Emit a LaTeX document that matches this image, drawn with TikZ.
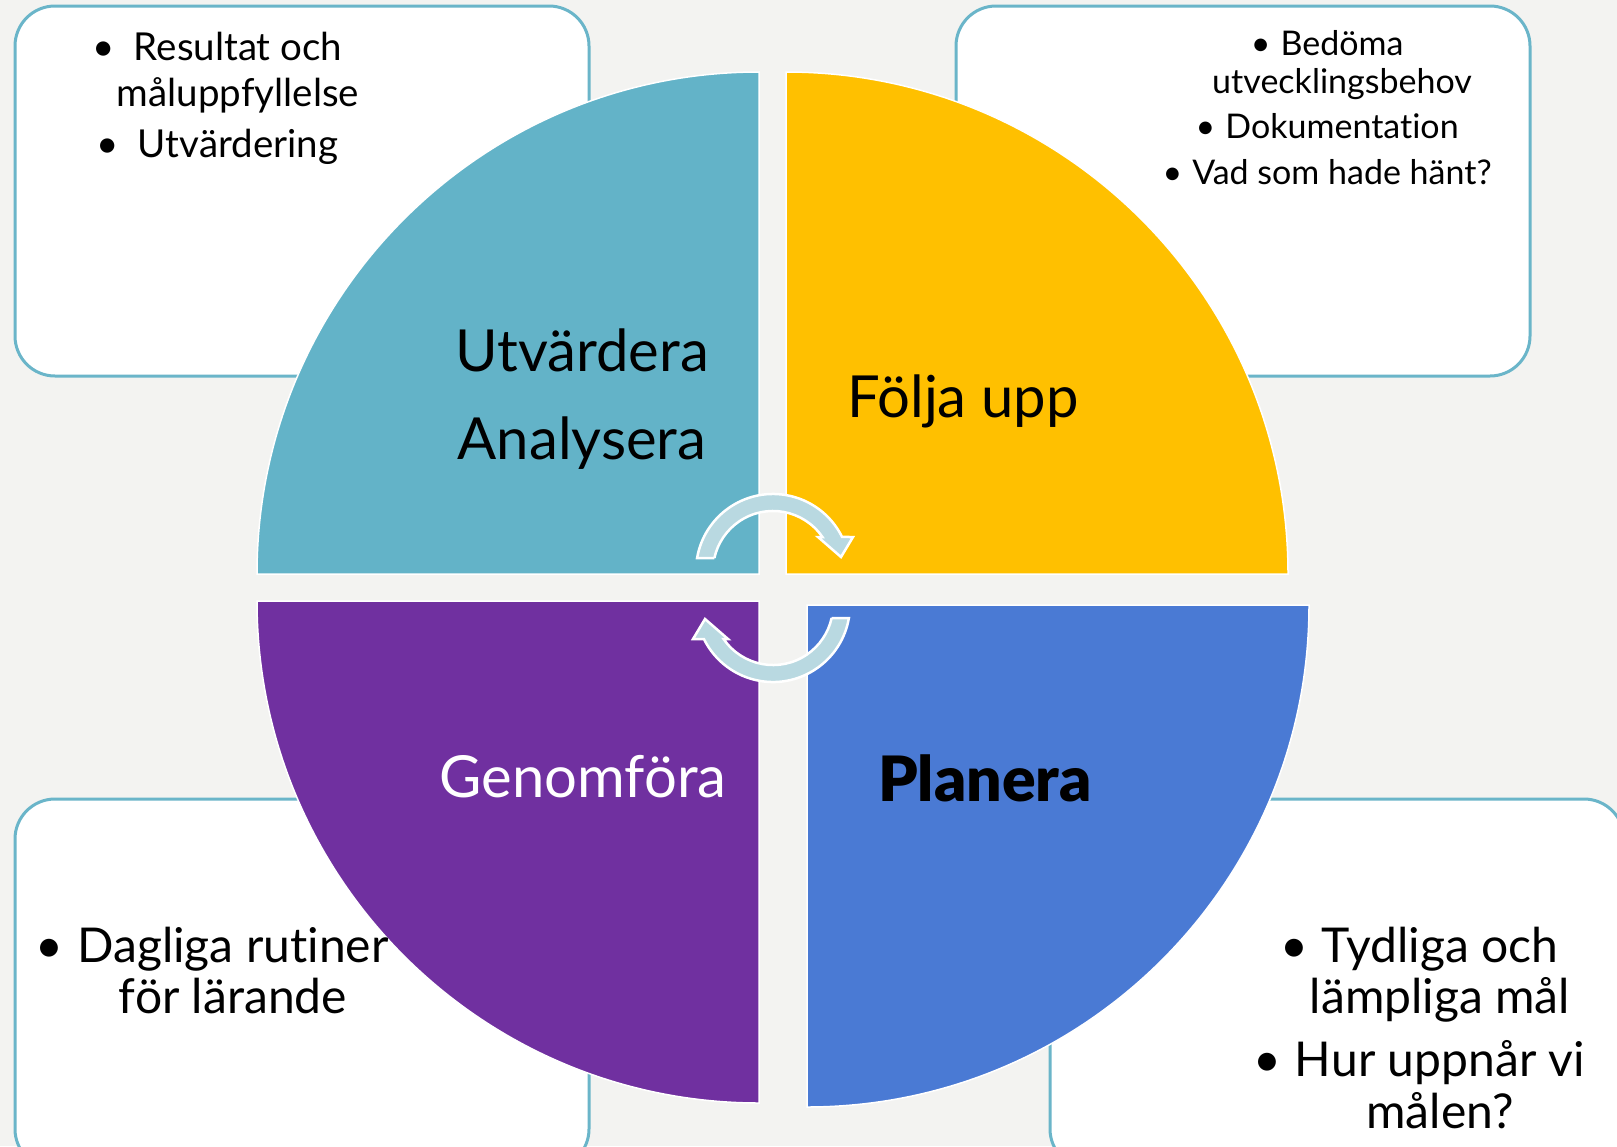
\documentclass[tikz,border=0pt]{standalone}
\usepackage{fontspec}
\setmainfont{Lato}[Ligatures=NoCommon]
\newfontfamily\heavyfont{Lato Black}
\definecolor{bgc}{HTML}{F3F3F1}
\definecolor{boxc}{HTML}{6AB5C9}
\definecolor{tealc}{HTML}{63B3C8}
\definecolor{yellowc}{HTML}{FFC000}
\definecolor{purplec}{HTML}{7030A0}
\definecolor{bluec}{HTML}{4A7AD4}
\definecolor{arrowc}{HTML}{B9D9E1}
\begin{document}
\begin{tikzpicture}[x=1pt,y=1pt,
  box/.style={draw=boxc, line width=3pt, fill=white, rounded corners=40pt},
  quad/.style={draw=white, line width=1.5pt},
  cyc/.style={fill=arrowc, draw=white, line width=2.5pt, line join=miter},
  lbl/.style={inner sep=0pt, anchor=base, font=\fontsize{58}{70}\selectfont},
  tl/.style={inner sep=0pt, anchor=base, font=\fontsize{38.5}{47}\selectfont},
  tr/.style={inner sep=0pt, anchor=base, font=\fontsize{34}{42}\selectfont},
  bt/.style={inner sep=0pt, anchor=base, font=\fontsize{48}{52}\selectfont}
]
\useasboundingbox (0,0) rectangle (1617,-1146);
\clip (0,0) rectangle (1617,-1146);
\fill[bgc] (0,0) rectangle (1617,-1146);

% boxes
\draw[box] (15,-6) rectangle (589,-376);
\draw[box] (956,-6) rectangle (1530,-376);
\draw[box] (15,-799) rectangle (589,-1169);
\draw[box] (1050,-799) rectangle (1624,-1169);

% quadrants
\filldraw[quad, fill=tealc] (759,-574) -- (257,-574) arc (180:90:502) -- cycle;
\filldraw[quad, fill=yellowc] (786,-574) -- (786,-72) arc (90:0:502) -- cycle;
\filldraw[quad, fill=purplec] (759,-601) -- (257,-601) arc (180:270:502) -- cycle;
\filldraw[quad, fill=bluec] (807,-605) -- (1309,-605) arc (0:-90:502) -- cycle;

% circular arrows
\begin{scope}[shift={(773,-571)}]
  \draw[cyc] (-58.6,13) -- (-75.9,13) arc (170.3:26.2:77) -- (80,34) -- (68,14) -- (45,34) -- (49.4,34) arc (34.5:167.5:60) -- cycle;
\end{scope}
\begin{scope}[shift={(773,-605)}, rotate=180]
  \draw[cyc] (-58.6,13) -- (-75.9,13) arc (170.3:26.2:77) -- (80,34) -- (68,14) -- (45,34) -- (49.4,34) arc (34.5:167.5:60) -- cycle;
\end{scope}

% quadrant labels
\node[lbl] (utv) at (582,-371) {Utvärdera};
\node[lbl] (ana) at (582,-459) {Analysera};
\node[lbl] (folj) at (963,-417) {Följa upp};
\node[lbl, text=white] (gen) at (583,-797) {Genomföra};
\node[inner sep=0pt, anchor=base, font=\heavyfont\fontsize{62.5}{70}\selectfont] (plan) at (985,-801) {Planera};

% top-left box text
\node[tl] (tl1) at (238,-60) {\llap{\textbullet\hspace{19pt}}Resultat och};
\node[tl] (tl2) at (238,-106) {måluppfyllelse};
\node[tl] (tl3) at (238,-157) {\llap{\textbullet\hspace{19pt}}Utvärdering};

% top-right box text
\node[tr] (tr1) at (1342,-55) {\llap{\textbullet\hspace{10pt}}Bedöma};
\node[tr] (tr2) at (1342,-93) {utvecklingsbehov};
\node[tr] (tr3) at (1342,-138) {\llap{\textbullet\hspace{10pt}}Dokumentation};
\node[tr] (tr4) at (1342,-184) {\llap{\textbullet\hspace{10pt}}Vad som hade hänt?};

% bottom-left box text
\node[bt] (bl1) at (233,-962) {\llap{\textbullet\hspace{14pt}}Dagliga rutiner};
\node[bt] (bl2) at (233,-1013) {för lärande};

% bottom-right box text
\node[bt] (br1) at (1440,-962) {\llap{\textbullet\hspace{14pt}}Tydliga och};
\node[bt] (br2) at (1440,-1013) {lämpliga mål};
\node[bt] (br3) at (1440,-1076) {\llap{\textbullet\hspace{14pt}}Hur uppnår vi};
\node[bt] (br4) at (1440,-1128) {målen?};
\end{tikzpicture}
\end{document}
